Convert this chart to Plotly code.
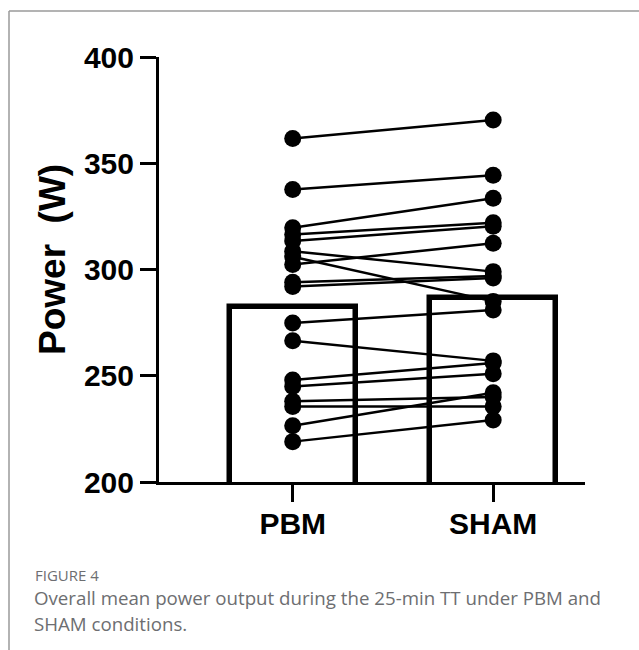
import plotly.graph_objects as go

# ---- data ----
categories = ["PBM", "SHAM"]
bar_means = [282.5, 286.4]
pbm_power = [361.6, 337.7, 319.7, 316.5, 313.4, 308.6, 306.0, 302.4, 294.0,
             292.0, 274.8, 266.5, 248.0, 245.0, 238.0, 235.5, 226.5, 219.0]
sham_power = [370.4, 344.3, 333.5, 322.0, 320.4, 299.0, 285.0, 312.3, 297.0,
              296.0, 281.0, 257.0, 256.0, 251.0, 240.0, 235.5, 242.0, 229.2]
y_ticks = [200, 250, 300, 350, 400]
y_title = "Power  (W)"
caption_head = "FIGURE 4"
caption_lines = ["Overall mean power output during the 25-min TT under PBM and",
                 "SHAM conditions."]

# ---- layout geometry (pixels) ----
W, H = 639, 650
L, R, T, B = 159, 54, 57, 168
pw, ph = W - L - R, H - T - B


def px_x(p):
    return (p - L) / pw


def px_y(p):
    return (H - B - p) / ph


xpos = list(range(len(categories)))

fig = go.Figure()
fig.add_trace(go.Bar(
    x=xpos, y=bar_means, width=0.63,
    marker=dict(color="white", line=dict(color="black", width=5.5)),
    hoverinfo="skip", showlegend=False,
))

xs, ys = [], []
for a, b in zip(pbm_power, sham_power):
    xs += [xpos[0], xpos[1], None]
    ys += [a, b, None]
fig.add_trace(go.Scatter(
    x=xs, y=ys, mode="lines+markers",
    line=dict(color="black", width=2.5),
    marker=dict(color="black", size=17),
    showlegend=False, cliponaxis=False,
))

arial_bold = dict(family="Liberation Sans, Arial, sans-serif",
                  color="black", weight="bold")

fig.update_layout(
    width=W, height=H,
    margin=dict(l=L, r=R, t=T, b=B, autoexpand=False),
    paper_bgcolor="white", plot_bgcolor="white",
    bargap=0,
    xaxis=dict(
        range=[-0.667, 1.458], tickmode="array", tickvals=xpos,
        ticktext=categories, showline=True, linewidth=3, linecolor="black",
        ticks="outside", ticklen=17, tickwidth=3, tickcolor="black",
        showgrid=False, zeroline=False, tickfont=dict(size=30, **arial_bold),
        ticklabelstandoff=-4, fixedrange=True,
    ),
    yaxis=dict(
        range=[200, 400], tickmode="array", tickvals=y_ticks,
        showline=True, linewidth=3, linecolor="black",
        ticks="outside", ticklen=16, tickwidth=3, tickcolor="black",
        showgrid=False, zeroline=False, tickfont=dict(size=30, **arial_bold),
        fixedrange=True,
    ),
)

fig.add_annotation(text=y_title, xref="paper", yref="paper",
                   x=px_x(52), y=px_y(259), xanchor="center", yanchor="middle",
                   textangle=-90, showarrow=False,
                   font=dict(size=37, **arial_bold))

cap_font = dict(family="Open Sans, Noto Sans, sans-serif", color="#6d6e71")
fig.add_annotation(text=caption_head, xref="paper", yref="paper",
                   x=px_x(33), y=px_y(575), xanchor="left", yanchor="middle",
                   showarrow=False, font=dict(size=15, **cap_font))
for i, line in enumerate(caption_lines):
    fig.add_annotation(text=line, xref="paper", yref="paper",
                       x=px_x(32), y=px_y(597 + 26 * i), xanchor="left",
                       yanchor="middle", showarrow=False,
                       font=dict(size=18.7, **cap_font))

# outer frame lines
frame = dict(type="line", xref="paper", yref="paper",
             line=dict(color="#9a9a9a", width=1.5), layer="above")
fig.add_shape(x0=px_x(9), x1=px_x(639), y0=px_y(11), y1=px_y(11), **frame)
fig.add_shape(x0=px_x(9), x1=px_x(9), y0=px_y(11), y1=px_y(650), **frame)

fig.write_html("out.html")
